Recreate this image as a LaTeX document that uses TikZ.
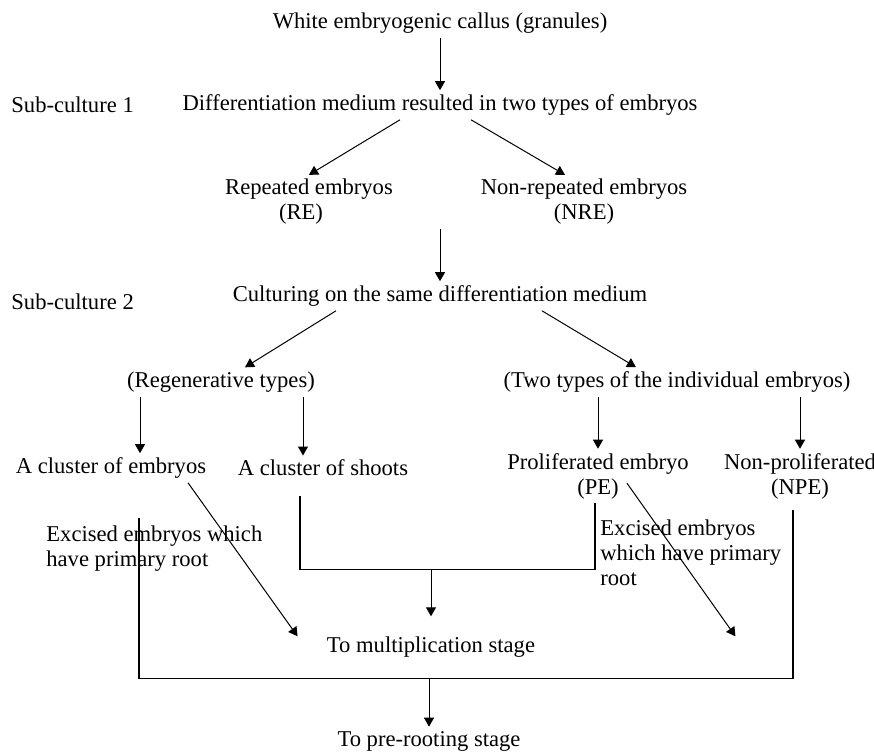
\documentclass[tikz,border=0pt]{standalone}
\usepackage{fontspec}
\setmainfont{Liberation Serif}
\usepackage{tikz}
\usetikzlibrary{arrows.meta,positioning,calc}

\begin{document}
\begin{tikzpicture}[
  x=0.5pt, y=-0.5pt,
  font=\fontsize{11.3}{12.5}\selectfont,
  txt/.style={inner sep=2pt, align=center},
  side/.style={inner sep=2pt, anchor=west, align=left},
  arr/.style={-{Triangle[length=4.5pt,width=5pt]}, line width=0.5pt},
  bar/.style={line width=0.7pt}
]
\useasboundingbox (0,0) rectangle (874,754);
\node[txt] (callus) at (440,23) {White embryogenic callus (granules)};
\node[txt] (diff) at (440,105) {Differentiation medium resulted in two types of embryos};
\node[side] (sub1) at (7,105) {Sub-culture 1};
\node[txt] (re) at (309,202) {Repeated embryos\\(RE)\hspace*{8pt}};
\node[txt] (nre) at (584,202) {Non-repeated embryos\\(NRE)};
\node[txt] (cult) at (440,296) {Culturing on the same differentiation medium};
\node[side] (sub2) at (7,302) {Sub-culture 2};
\node[txt] (regen) at (221,382) {(Regenerative types)};
\node[txt] (indiv) at (677,382) {(Two types of the individual embryos)};
\node[txt] (clemb) at (111,468) {A cluster of embryos};
\node[txt] (clsh) at (323,468) {A cluster of shoots};
\node[txt] (pe) at (598,476) {Proliferated embryo\\(PE)};
\node[txt] (npe) at (800,476) {Non-proliferated\\(NPE)};
\node[side] (exl) at (42,549) {Excised embryos which\\have primary root};
\node[side] (exr) at (596,553) {Excised embryos\\which have primary\\root};
\node[txt] (mult) at (431,647) {To multiplication stage};
\node[txt] (preroot) at (429,741) {To pre-rooting stage};

\draw[arr] (callus) -- (diff);
\draw[arr] ($(diff.south)+(-40,0)$) -- (re.north);
\draw[arr] ($(diff.south)+(31,0)$) -- ($(nre.north)+(-19,0)$);
\draw[arr] (re.south -| diff.south) -- (cult);
\draw[arr] ($(cult.south)+(-104,0)$) -- ($(regen.north)+(24,0)$);
\draw[arr] ($(cult.south)+(102,0)$) -- ($(indiv.north)+(-41,0)$);
\draw[arr] ($(regen.south)+(-81,0)$) -- ($(clemb.north)+(29,0)$);
\draw[arr] ($(regen.south)+(82,0)$) -- ($(clsh.north)+(-20,0)$);
\draw[arr] (pe.north |- indiv.south) -- (pe);
\draw[arr] (npe.north |- indiv.south) -- (npe);

\draw[bar] ($(clsh.south)+(-23,16)$) |- ($(pe.south)+(-3,66)$) coordinate (j1) -- ($(pe.south)+(-3,0)$);
\draw[arr, shorten >=8pt] (mult |- j1) -- (mult);
\draw[arr] ($(clemb.south)+(77,0)$) -- ($(mult.north west)+(-25,4)$);
\draw[arr] ($(pe.south)+(29,-20)$) -- ($(mult.north east)+(196,4)$);

\draw[bar] ($(clemb.south)+(28,35)$) |- ($(npe.south)+(-7,175)$) coordinate (j2) -- ($(npe.south)+(-7,7)$);
\draw[arr] (preroot |- j2) -- (preroot);
\end{tikzpicture}
\end{document}
